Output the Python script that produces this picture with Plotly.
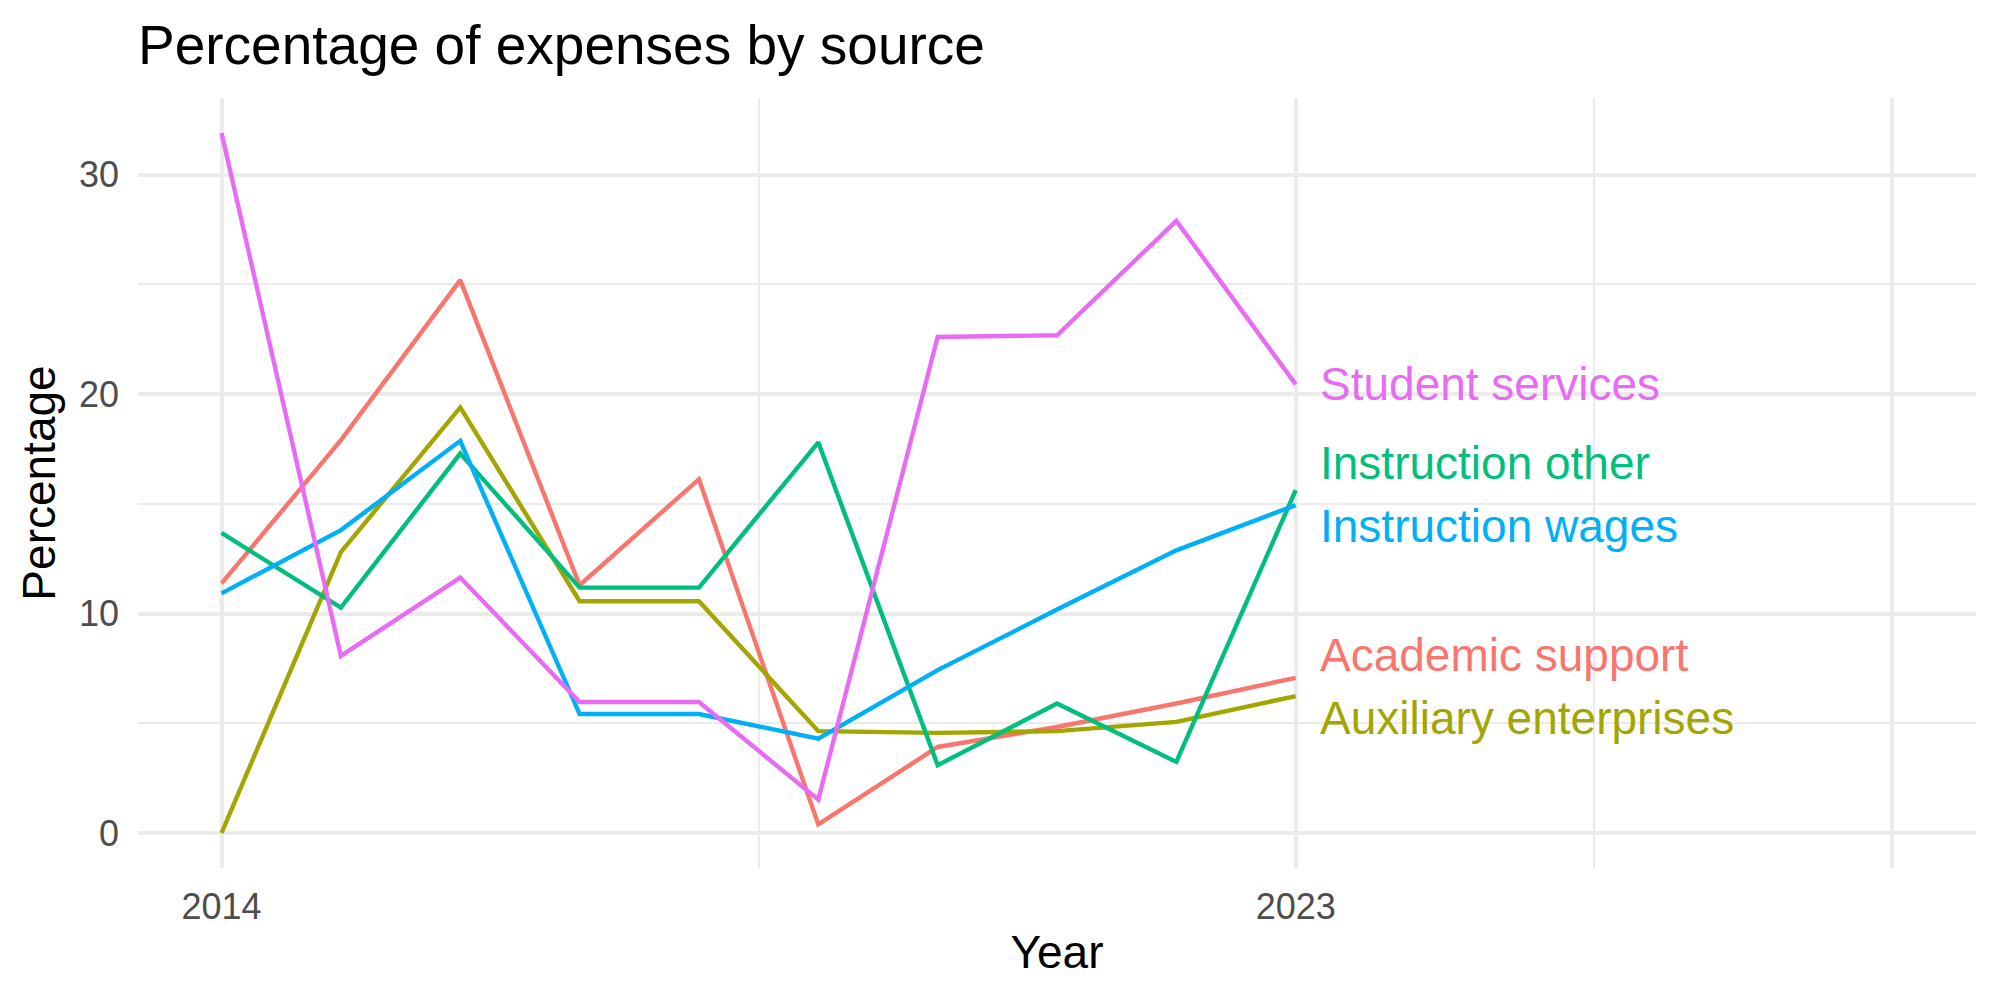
import plotly.graph_objects as go

years = list(range(2014, 2024))
academic_support = [11.37, 17.9, 25.19, 11.29, 16.12, 0.39, 3.92, 4.83, 5.9, 7.07]
auxiliary_enterprises = [0.0, 12.8, 19.39, 10.56, 10.56, 4.64, 4.56, 4.64, 5.06, 6.24]
instruction_other = [13.67, 10.27, 17.29, 11.18, 11.18, 17.8, 3.09, 5.9, 3.24, 15.62]
instruction_wages = [10.92, 13.8, 17.87, 5.42, 5.42, 4.30, 7.42, 10.18, 12.88, 14.94]
student_services = [31.9, 8.07, 11.64, 5.97, 5.97, 1.52, 22.6, 22.68, 27.89, 20.44]

series_names = ["Academic support", "Auxiliary enterprises", "Instruction other",
                "Instruction wages", "Student services"]
series_values = [academic_support, auxiliary_enterprises, instruction_other,
                 instruction_wages, student_services]
colors = ["#F8766D", "#A3A500", "#00BF7D", "#00B0F6", "#E76BF3"]
# vertical nudges of end labels (repel-like), in data units
label_nudge = [1.03, -1.01, 1.24, -0.95, 0.0]

x_tick_vals = [2014, 2023, 2028]
x_tick_text = ["2014", "2023", ""]
y_tick_vals = [0, 10, 20, 30]

FONT = "Liberation Sans, Arial, Helvetica, sans-serif"
GRID = "#EBEBEB"

fig = go.Figure()
for name, vals, col in zip(series_names, series_values, colors):
    fig.add_trace(go.Scatter(x=years, y=vals, mode="lines", name=name,
                             line=dict(color=col, width=4.4), showlegend=False))

for name, vals, col, nud in zip(series_names, series_values, colors, label_nudge):
    fig.add_annotation(x=years[-1], y=vals[-1] + nud, text=name, showarrow=False,
                       xanchor="left", yanchor="middle", xshift=22,
                       font=dict(family=FONT, size=46, color=col))

fig.update_layout(
    width=2000, height=1000,
    margin=dict(l=138, r=24, t=98, b=132),
    plot_bgcolor="white", paper_bgcolor="white",
    font=dict(family=FONT, color="black"),
    title=dict(text="Percentage of expenses by source", x=0, xref="paper",
               xanchor="left", y=0.975, yref="container", yanchor="top",
               font=dict(family=FONT, size=55, color="black")),
    xaxis=dict(range=[2013.3, 2028.7], tickvals=x_tick_vals, ticktext=x_tick_text,
               showgrid=True, gridcolor=GRID, gridwidth=4.4, zeroline=False,
               showline=False, ticks="", ticklabelstandoff=14,
               tickfont=dict(family=FONT, size=36, color="#4D4D4D"),
               minor=dict(tickvals=[2018.5, 2025.5], showgrid=True, gridcolor=GRID,
                          gridwidth=2.2, ticks=""),
               title=dict(text="Year", standoff=9,
                          font=dict(family=FONT, size=46, color="black"))),
    yaxis=dict(range=[-1.595, 33.49], tickvals=y_tick_vals,
               showgrid=True, gridcolor=GRID, gridwidth=4.4, zeroline=False,
               showline=False, ticks="", ticklabelstandoff=18,
               tickfont=dict(family=FONT, size=36, color="#4D4D4D"),
               minor=dict(tickvals=[5, 15, 25], showgrid=True, gridcolor=GRID,
                          gridwidth=2.2, ticks=""),
               title=dict(text="Percentage", standoff=8,
                          font=dict(family=FONT, size=46, color="black"))),
)

fig.write_html("out.html")
